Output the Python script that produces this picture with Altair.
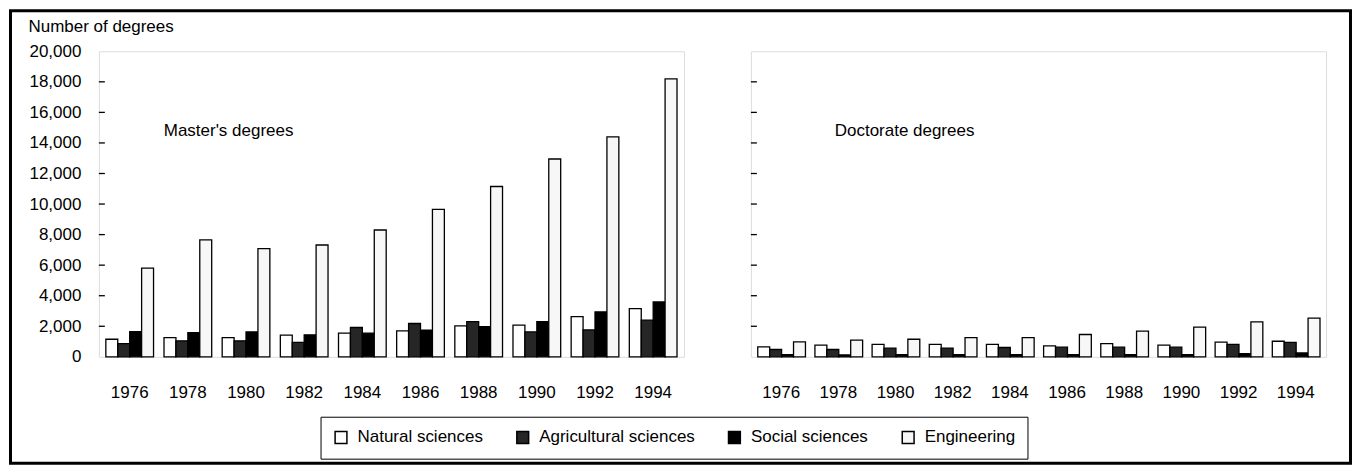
import altair as alt
import pandas as pd

years = ["1976", "1978", "1980", "1982", "1984", "1986", "1988", "1990", "1992", "1994"]
fields = ["Natural sciences", "Agricultural sciences", "Social sciences", "Engineering"]

masters_natural = [1150, 1260, 1260, 1420, 1550, 1700, 2030, 2070, 2630, 3160]
masters_agricultural = [870, 1050, 1050, 940, 1920, 2180, 2310, 1630, 1760, 2400]
masters_social = [1650, 1590, 1630, 1440, 1550, 1740, 1980, 2310, 2940, 3590]
masters_engineering = [5800, 7650, 7080, 7320, 8300, 9650, 11150, 12950, 14400, 18200]

doctor_natural = [650, 760, 810, 810, 810, 720, 870, 760, 960, 1020]
doctor_agricultural = [480, 480, 570, 570, 610, 630, 630, 630, 810, 940]
doctor_social = [150, 120, 150, 150, 150, 150, 150, 150, 200, 250]
doctor_engineering = [980, 1090, 1150, 1260, 1260, 1460, 1680, 1940, 2290, 2530]

y_label_values = [0, 2000, 4000, 6000, 8000, 10000, 12000, 14000, 16000, 18000, 20000]
tick_values = [2000, 4000, 6000, 8000, 10000, 12000, 14000, 16000, 18000]

FONT = "Liberation Sans, Arial, sans-serif"
FS = 17


def make_df(series):
    rows = []
    for f, vals in zip(fields, series):
        for yr, v in zip(years, vals):
            rows.append({"year": yr, "field": f, "value": v})
    return pd.DataFrame(rows)


masters_df = make_df([masters_natural, masters_agricultural, masters_social, masters_engineering])
doctor_df = make_df([doctor_natural, doctor_agricultural, doctor_social, doctor_engineering])
ticks_df = pd.DataFrame({"value": tick_values})

color = alt.Color(
    "field:N",
    scale=alt.Scale(domain=fields, range=["#ffffff", "#262626", "#000000", "#f7f7f7"]),
    legend=alt.Legend(
        title=None,
        orient="none",
        legendX=222,
        legendY=366,
        direction="horizontal",
        columns=4,
        symbolType="square",
        symbolSize=140,
        symbolStrokeColor="black",
        symbolStrokeWidth=1.5,
        labelFont=FONT,
        labelFontSize=FS,
        labelColor="black",
        labelLimit=0,
        labelOffset=8,
        columnPadding=30,
        padding=12,
        strokeColor="black",
    ),
)

yscale = alt.Scale(domain=[0, 20000], nice=False)

left_yaxis = alt.Axis(
    values=y_label_values,
    format=",d",
    ticks=False,
    domain=False,
    grid=False,
    labelPadding=18,
    labelFont=FONT,
    labelFontSize=FS,
    labelColor="black",
    labelOverlap=False,
    title="Number of degrees",
    titleAngle=0,
    titleAlign="left",
    titleBaseline="middle",
    titleX=-71,
    titleY=-25,
    titleFont=FONT,
    titleFontSize=FS,
    titleFontWeight="normal",
    titleColor="black",
)

xaxis = alt.Axis(
    title=None,
    labelAngle=0,
    ticks=False,
    domain=False,
    labelPadding=28,
    labelFont=FONT,
    labelFontSize=FS,
    labelColor="black",
)


def panel(df, label, label_x, width, yaxis, frame):
    bars = alt.Chart(df).mark_bar(stroke="black", strokeWidth=1.3).encode(
        x=alt.X("year:O", scale=alt.Scale(paddingInner=0.18, paddingOuter=0.12), axis=xaxis),
        xOffset=alt.XOffset("field:N", sort=fields, scale=alt.Scale(domain=fields)),
        y=alt.Y("value:Q", scale=yscale, axis=yaxis),
        color=color,
    )
    ticks = alt.Chart(ticks_df).mark_rule(color="black", strokeWidth=1.3).encode(
        x=alt.value(0),
        x2=alt.value(6),
        y=alt.Y("value:Q", scale=yscale, axis=yaxis),
    )
    text = alt.Chart(pd.DataFrame({"t": [label]})).mark_text(
        align="left", baseline="middle", font=FONT, fontSize=FS, color="black"
    ).encode(x=alt.value(label_x), y=alt.value(80), text="t:N")
    layers = [bars, ticks, text]
    if frame:
        fr = alt.Chart(pd.DataFrame({"a": [0]})).mark_rect(
            fillOpacity=0, stroke="black", strokeWidth=3
        ).encode(
            x=alt.value(-88.5), x2=alt.value(1253.5), y=alt.value(-40.5), y2=alt.value(412.5)
        )
        layers = [fr] + layers
    return alt.layer(*layers).properties(width=width, height=306)


left = panel(masters_df, "Master's degrees", 65, 586, left_yaxis, True)
right = panel(doctor_df, "Doctorate degrees", 84, 576, None, False)

chart = (
    alt.hconcat(left, right, spacing=67, bounds="flush")
    .properties(padding=0)
    .configure_view(stroke="black", strokeWidth=1.5)
    .configure(background="white")
)

chart.save("out.html", embed_options={"renderer": "svg", "actions": False})
